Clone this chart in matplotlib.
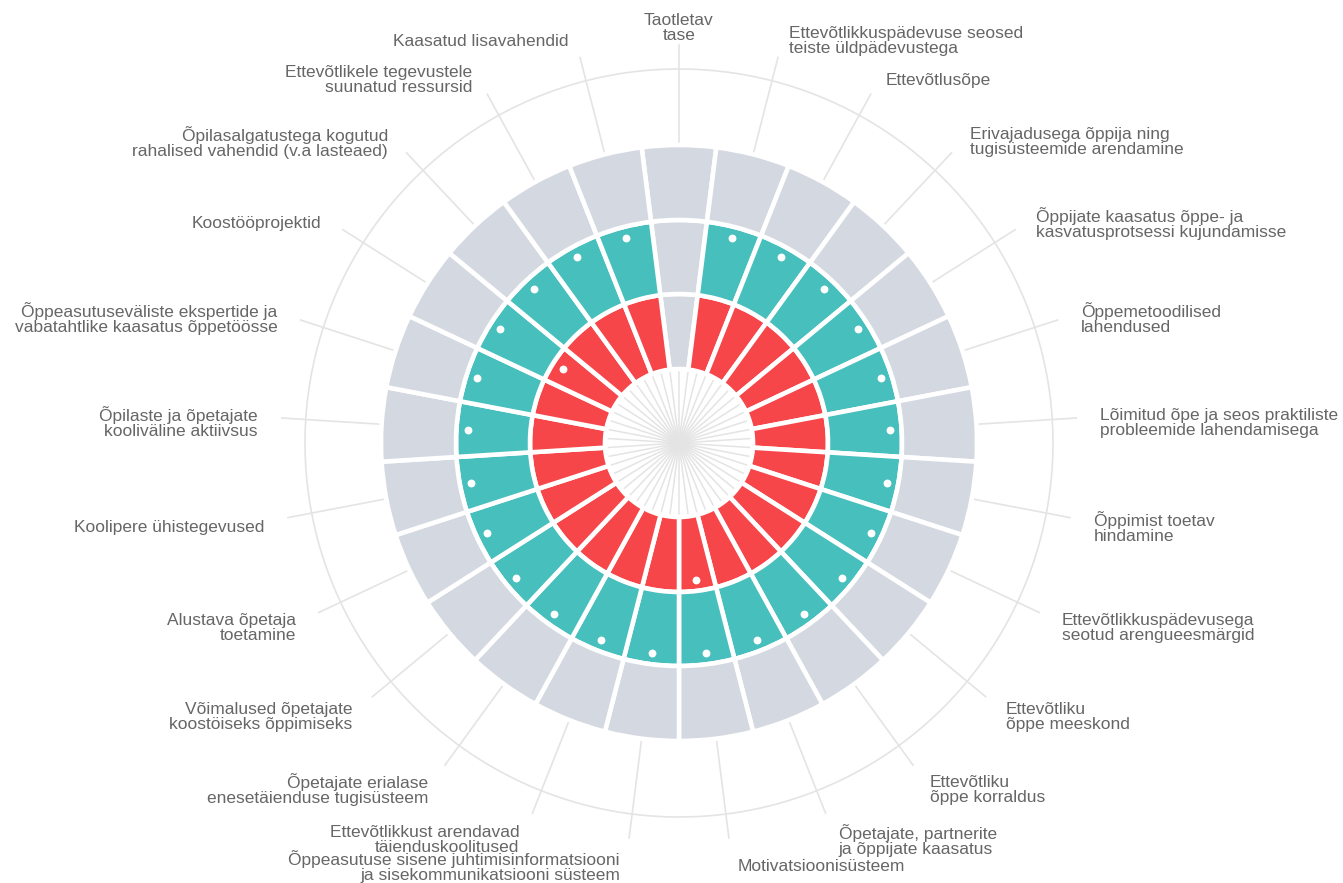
import matplotlib
matplotlib.use('Agg')
import numpy as np
import matplotlib.pyplot as plt

plt.rcParams['font.family'] = ['Liberation Sans', 'DejaVu Sans']

# categories, clockwise from the top
labels = [
    'Taotletav\ntase',
    'Ettevõtlikkuspädevuse seosed\nteiste üldpädevustega',
    'Ettevõtlusõpe',
    'Erivajadusega õppija ning\ntugisüsteemide arendamine',
    'Õppijate kaasatus õppe- ja\nkasvatusprotsessi kujundamisse',
    'Õppemetoodilised\nlahendused',
    'Lõimitud õpe ja seos praktiliste\nprobleemide lahendamisega',
    'Õppimist toetav\nhindamine',
    'Ettevõtlikkuspädevusega\nseotud arengueesmärgid',
    'Ettevõtliku\nõppe meeskond',
    'Ettevõtliku\nõppe korraldus',
    'Õpetajate, partnerite\nja õppijate kaasatus',
    'Motivatsioonisüsteem',
    'Õppeasutuse sisene juhtimisinformatsiooni\nja sisekommunikatsiooni süsteem',
    'Ettevõtlikkust arendavad\ntäienduskoolitused',
    'Õpetajate erialase\nenesetäienduse tugisüsteem',
    'Võimalused õpetajate\nkoostöiseks õppimiseks',
    'Alustava õpetaja\ntoetamine',
    'Koolipere ühistegevused',
    'Õpilaste ja õpetajate\nkooliväline aktiivsus',
    'Õppeasutuseväliste ekspertide ja\nvabatahtlike kaasatus õppetöösse',
    'Koostööprojektid',
    'Õpilasalgatustega kogutud\nrahalised vahendid (v.a lasteaed)',
    'Ettevõtlikele tegevustele\nsuunatud ressursid',
    'Kaasatud lisavahendid',
]

# reached level per category (0 = none, 1 = red ring, 2 = red + teal ring)
levels = [0] + [2] * 24

# white markers in the red (1) and teal (2) rings
dots_level1 = [0] * 25
dots_level1[12] = 1
dots_level1[21] = 1
dots_level2 = [0] + [1] * 24

n = len(labels)
width = 2 * np.pi / n
theta = np.arange(n) * width

fig = plt.figure(figsize=(13.43, 8.83), dpi=100)
R = 420
cx, cy = 679, 883 - 443
ax = fig.add_axes([(cx - R) / 1343, (cy - R) / 883, 2 * R / 1343, 2 * R / 883],
                  projection='polar')
ax.set_theta_zero_location('N')
ax.set_theta_direction(-1)
ax.set_ylim(0, R)
ax.axis('off')

grey = '#d4d8e0'
line_c = '#e4e4e4'
fill_colors = ['#f7464a', '#46bfbd']
edges = [74, 149, 223, 298]

# spokes in the hole
for t in np.arange(50) * 2 * np.pi / 50:
    ax.plot([t, t], [0, 72], color=line_c, lw=1.1, zorder=1)

for i in range(3):
    cols = [fill_colors[i] if (i < 2 and lv > i) else grey for lv in levels]
    ax.bar(theta, edges[i + 1] - edges[i], width=width, bottom=edges[i],
           color=cols, edgecolor='white', linewidth=3.3, zorder=2)

# markers
for ring, dots in enumerate([dots_level1, dots_level2]):
    m = np.array(dots) == 1
    r = edges[ring] + 0.85 * (edges[ring + 1] - edges[ring])
    ax.scatter(theta[m], np.full(m.sum(), r), s=32, color='white', zorder=4,
               linewidths=0)

# outer circle and label lines
tt = np.linspace(0, 2 * np.pi, 500)
ax.plot(tt, np.full_like(tt, 374), color=line_c, lw=1.2, zorder=1)
for t in theta:
    ax.plot([t, t], [298, 398], color=line_c, lw=1.2, zorder=1)

for t, lab in zip(theta, labels):
    s, c = np.sin(t), np.cos(t)
    if abs(s) < 0.01:
        ha, dx = 'center', 0
    elif s > 0:
        ha, dx = 'left', 7
    else:
        ha, dx = 'right', -7
    dy = -6 * (1 - c)
    ax.annotate(lab, xy=(t, 415), xytext=(dx * 0.72, dy * 0.72),
                textcoords='offset points', ha=ha, va='center',
                multialignment=ha, fontsize=12.5, color='#666666',
                linespacing=1.0, annotation_clip=False)

fig.savefig('out.png', dpi=100)
